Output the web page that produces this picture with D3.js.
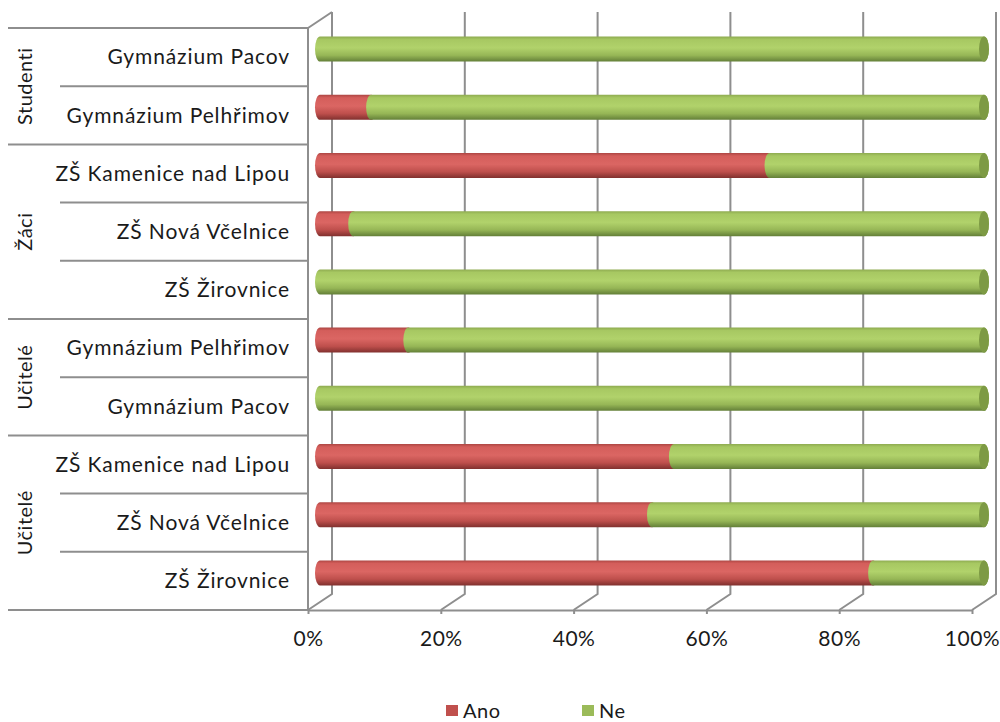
<!DOCTYPE html>
<html>
<head>
<meta charset="utf-8">
<script src="https://cdn.jsdelivr.net/npm/d3@7"></script>
<style>
  body { margin: 0; background: #fff; }
  text { font-family: Lato, "Open Sans", sans-serif; fill: #1a1a1a; }
</style>
</head>
<body>
<div id="graph1"></div>
<script>
// chart data
var schools = ["Gymnázium Pacov", "Gymnázium Pelhřimov", "ZŠ Kamenice nad Lipou", "ZŠ Nová Včelnice", "ZŠ Žirovnice",
    "Gymnázium Pelhřimov", "Gymnázium Pacov", "ZŠ Kamenice nad Lipou", "ZŠ Nová Včelnice", "ZŠ Žirovnice"];
var groups = ["Studenti", "Žáci", "Učitelé", "Učitelé"];
var groupSizes = [2, 3, 2, 3];
var ano = [0, 7.7, 67.7, 5, 0, 13.3, 0, 53.3, 50, 83.3];
var ne = [100, 92.3, 32.3, 95, 100, 86.7, 100, 46.7, 50, 16.7];
var ticks = [0, 20, 40, 60, 80, 100];
var names = ["Ano", "Ne"];
var colors = ["#c0504d", "#9bbb59"];

var w = 1000;
var h = 722;
var plotTop = 28, plotBottom = 610;
var plotLeft = 308, plotRight = 972;
var depthX = 24, depthY = -16;   // 3d offset of the back wall
var barH = 25, capR = 5;
var gridColor = "#8e8e8e";

var svg = d3.select("#graph1")
    .append("svg")
    .attr("width", w)
    .attr("height", h);

var defs = svg.append("defs");
var gradStops = [
    [["0", "#ad4643"], ["0.12", "#d45e5b"], ["0.45", "#db6663"], ["0.75", "#be4f4c"], ["1", "#80302e"]],
    [["0", "#8eab50"], ["0.12", "#a7c862"], ["0.45", "#b1d26b"], ["0.75", "#96b656"], ["1", "#637f38"]]
];
gradStops.forEach(function (stops, i) {
    var g = defs.append("linearGradient")
        .attr("id", "grad" + i)
        .attr("x1", 0).attr("y1", 0).attr("x2", 0).attr("y2", 1);
    stops.forEach(function (s) {
        g.append("stop").attr("offset", s[0]).attr("stop-color", s[1]);
    });
});

var xScale = d3.scaleLinear()
    .domain([0, 100])
    .range([plotLeft, plotRight]);

var yScale = d3.scaleBand()
    .domain(d3.range(schools.length))
    .range([plotTop, plotBottom]);

// back wall gridlines with floor diagonals
var grid = svg.append("g")
    .attr("stroke", gridColor)
    .attr("stroke-width", 2)
    .attr("fill", "none");

grid.selectAll("path")
    .data(ticks)
    .enter()
    .append("path")
    .attr("d", function (d) {
        var x = xScale(d);
        return "M" + x + "," + plotBottom + "L" + (x + depthX) + "," + (plotBottom + depthY) +
            "L" + (x + depthX) + "," + (plotTop + depthY);
    });

// left wall top edge
grid.append("path")
    .attr("d", "M" + plotLeft + "," + plotTop + "L" + (plotLeft + depthX) + "," + (plotTop + depthY));

// x axis (front edge of the floor)
var xAxis = d3.axisBottom()
    .scale(xScale)
    .tickValues(ticks)
    .tickSize(4)
    .tickSizeOuter(0)
    .tickPadding(17)
    .tickFormat(function (d) { return d + "%"; });

var axisG = svg.append("g")
    .attr("transform", "translate(0," + plotBottom + ")")
    .call(xAxis);
axisG.selectAll("path, line")
    .attr("stroke", gridColor)
    .attr("stroke-width", 2);
axisG.selectAll("text")
    .attr("font-size", "21px")
    .attr("letter-spacing", "0.5px")
    .style("font-family", "Lato, sans-serif")
    .attr("fill", "#1a1a1a");

// category table on the left
var table = svg.append("g")
    .attr("stroke", gridColor)
    .attr("stroke-width", 2);

table.append("line")
    .attr("x1", plotLeft).attr("x2", plotLeft)
    .attr("y1", plotTop).attr("y2", plotBottom + 1);

var groupStart = [0];
groupSizes.forEach(function (n, i) {
    groupStart.push(groupStart[i] + n);
});

// row separators
table.selectAll("line.row")
    .data(d3.range(schools.length + 1))
    .enter()
    .append("line")
    .attr("class", "row")
    .attr("x1", function (d) {
        return groupStart.indexOf(d) >= 0 ? 8 : 60;
    })
    .attr("x2", plotLeft)
    .attr("y1", function (d) { return d < schools.length ? yScale(d) : plotBottom; })
    .attr("y2", function (d) { return d < schools.length ? yScale(d) : plotBottom; });

svg.selectAll("text.school")
    .data(schools)
    .enter()
    .append("text")
    .attr("class", "school")
    .text(function (d) { return d; })
    .attr("x", 290)
    .attr("y", function (d, i) { return yScale(i) + yScale.bandwidth() / 2; })
    .attr("dy", "0.35em")
    .attr("text-anchor", "end")
    .attr("font-size", "21px")
    .attr("letter-spacing", "0.9px");

svg.selectAll("text.group")
    .data(groups)
    .enter()
    .append("text")
    .attr("class", "group")
    .text(function (d) { return d; })
    .attr("transform", function (d, i) {
        var y0 = yScale(groupStart[i]);
        var y1 = groupStart[i + 1] < schools.length ? yScale(groupStart[i + 1]) : plotBottom;
        return "translate(25," + ((y0 + y1) / 2) + ") rotate(-90)";
    })
    .attr("dy", "0.35em")
    .attr("text-anchor", "middle")
    .attr("font-size", "20px")
    .attr("letter-spacing", "0.5px");

// stacked cylinders, drawn at mid depth
var series = [ano, ne];
var bars = svg.append("g")
    .attr("transform", "translate(" + (depthX / 2) + "," + (depthY / 2) + ")");

function segPath(x0, x1, yc) {
    var y0 = yc - barH / 2, y1 = yc + barH / 2;
    return "M" + x0 + "," + y0 + "L" + x1 + "," + y0 +
        "A" + capR + "," + (barH / 2) + " 0 0 1 " + x1 + "," + y1 +
        "L" + x0 + "," + y1 +
        "A" + capR + "," + (barH / 2) + " 0 0 1 " + x0 + "," + y0 + "Z";
}

schools.forEach(function (s, i) {
    var yc = yScale(i) + yScale.bandwidth() / 2;
    var start = 0;
    series.forEach(function (vals, k) {
        var v = vals[i];
        if (v > 0) {
            bars.append("path")
                .attr("d", segPath(xScale(start), xScale(start + v), yc))
                .attr("fill", "url(#grad" + k + ")");
        }
        start += v;
    });
    // end face of the cylinder
    bars.append("ellipse")
        .attr("cx", xScale(start))
        .attr("cy", yc)
        .attr("rx", capR)
        .attr("ry", barH / 2)
        .attr("fill", ne[i] > 0 ? "#7d9a44" : "#9f3f3c");
});

// legend
var legend = svg.selectAll("g.legend")
    .data(names)
    .enter()
    .append("g")
    .attr("class", "legend")
    .attr("transform", function (d, i) {
        return "translate(" + (446 + i * 136) + ",705)";
    });

legend.append("rect")
    .attr("width", 12)
    .attr("height", 11)
    .attr("fill", function (d, i) { return colors[i]; });

legend.append("text")
    .text(function (d) { return d; })
    .attr("x", 17)
    .attr("y", 6)
    .attr("dy", "0.35em")
    .attr("font-size", "20px")
    .attr("letter-spacing", "0.5px");
</script>
</body>
</html>
